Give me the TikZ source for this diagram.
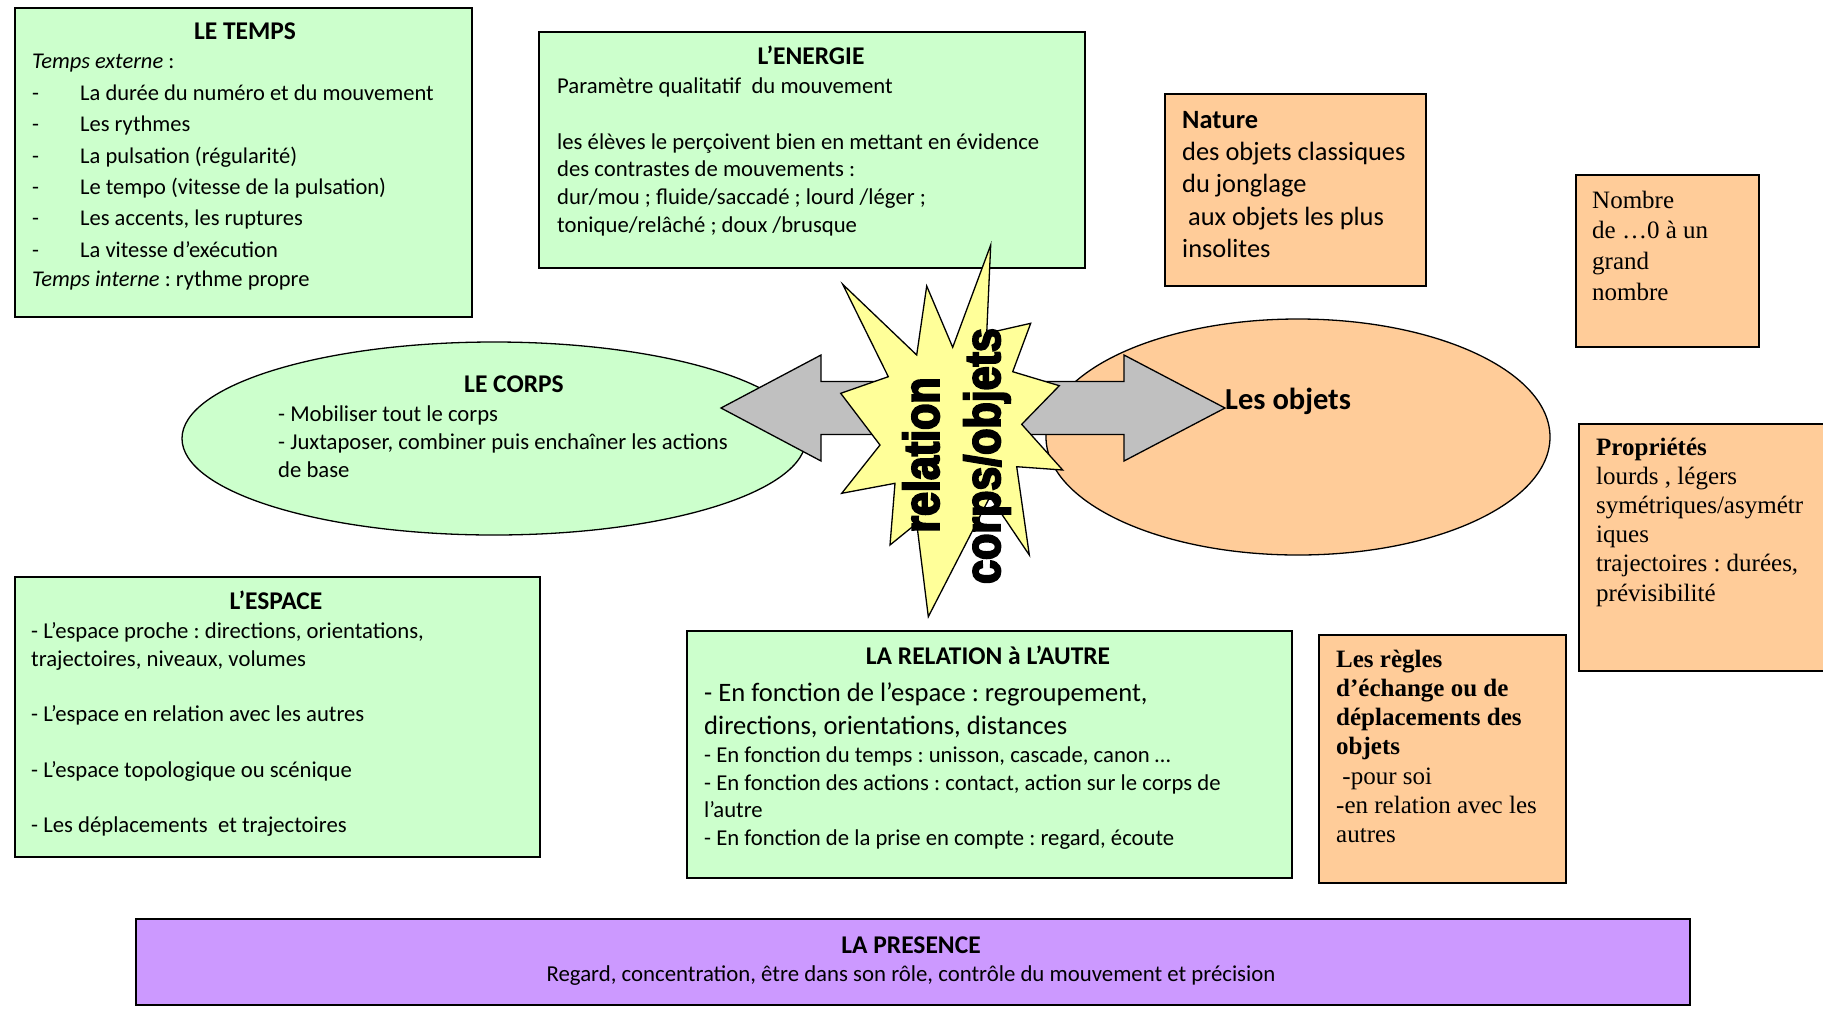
\documentclass[tikz,border=0pt]{standalone}
\usepackage{fontspec}
\setmainfont{Carlito}
\newfontfamily\tnr{Liberation Serif}
\newfontfamily\impactfont[FakeStretch=0.86,FakeBold=4]{Liberation Sans}
\usetikzlibrary{shapes.geometric}
\definecolor{grn}{HTML}{CCFFCC}
\definecolor{org}{HTML}{FFCC99}
\definecolor{prp}{HTML}{CC99FF}
\definecolor{ylw}{HTML}{FFFF99}
\definecolor{gry}{HTML}{C0C0C0}
\frenchspacing
\begin{document}
\begin{tikzpicture}[x=1pt,y=-1pt,
  pbox/.style={draw=black, line width=1.6pt, inner sep=0pt, anchor=north west},
  ell/.style={ellipse, draw=black, line width=1.3pt, inner sep=0pt},
  txt/.style={inner sep=0pt, align=left, anchor=base west},
  ttl/.style={inner sep=0pt, anchor=base, font=\bfseries\fontsize{25.5}{30}\selectfont},
  bigarrow/.style={draw=black, line width=1.3pt, fill=gry, line join=miter},
  starshape/.style={draw=black, line width=1.3pt, fill=ylw, line join=miter},
  startext/.style={inner sep=0pt, rotate=90, font=\impactfont\bfseries\fontsize{50}{54}\selectfont},
  sm/.style={font=\fontsize{22.7}{27.7}\selectfont}
]
\useasboundingbox (0,0) rectangle (1823,1013);

% ---------- boxes ----------
\node[pbox, fill=grn, minimum width=457pt, minimum height=309pt] (temps) at (14,7) {};
\node[pbox, fill=grn, minimum width=546pt, minimum height=236pt] (energie) at (538,31) {};
\node[pbox, fill=org, minimum width=261pt, minimum height=192pt] (nature) at (1164,93) {};
\node[pbox, fill=org, minimum width=183pt, minimum height=172pt] (nombre) at (1575,174) {};
\node[pbox, fill=org, minimum width=260pt, minimum height=247pt] (proprietes) at (1578,423) {};
\node[pbox, fill=org, minimum width=247pt, minimum height=248pt] (regles) at (1318,634) {};
\node[pbox, fill=grn, minimum width=525pt, minimum height=280pt] (espace) at (14,576) {};
\node[pbox, fill=grn, minimum width=605pt, minimum height=247pt] (relautre) at (686,630) {};
\node[pbox, fill=prp, minimum width=1554pt, minimum height=86pt] (presence) at (135,918) {};

% ---------- ellipses ----------
\node[ell, fill=grn, minimum width=624pt, minimum height=193pt] (corps) at (494,438.5) {};
\node[ell, fill=org, minimum width=504pt, minimum height=236pt] (objets) at (1298,437) {};

% ---------- double arrow ----------
\draw[bigarrow] (721,408) -- (821,355) -- (821,381.5) -- (1124,381.5) -- (1124,355) -- (1225,408)
  -- (1124,461) -- (1124,434.5) -- (821,434.5) -- (821,461) -- cycle;

% ---------- star ----------
\draw[starshape] (842.7,284.3) -- (916.7,355) -- (926.7,286) -- (952.7,347.3) -- (990.7,245)
  -- (986.7,333.3) -- (1030.7,323.3) -- (1012.7,371.7) -- (1059.3,385.7) -- (1021.7,424.3)
  -- (1062.7,470) -- (1016.7,466.7) -- (1029.3,555) -- (990,496.7) -- (928.3,616.7)
  -- (916.7,523.3) -- (890,545) -- (895,483.3) -- (841.7,493.3) -- (880,445)
  -- (840.7,393.3) -- (888.3,376.7) -- cycle;
\node[startext] (rel) at (921,455) {relation};
\node[startext] (corpsobj) at (987,456) {corps/objets};

% ---------- LE TEMPS ----------
\node[ttl] (tempsT) at (245,39.5) {LE TEMPS};
\node[txt, font=\fontsize{22.5}{31.3}\selectfont] (tempsA) at (32,68) {\textit{Temps externe} :};
\node[txt, font=\fontsize{22.5}{31.3}\selectfont] (tempsB) at (32,257)
 {\makebox[48pt][l]{-}La durée du numéro et du mouvement\\
  \makebox[48pt][l]{-}Les rythmes\\
  \makebox[48pt][l]{-}La pulsation (régularité)\\
  \makebox[48pt][l]{-}Le tempo (vitesse de la pulsation)\\
  \makebox[48pt][l]{-}Les accents, les ruptures\\
  \makebox[48pt][l]{-}La vitesse d’exécution};
\node[txt, font=\fontsize{22.5}{31.3}\selectfont] (tempsC) at (32,286) {\textit{Temps interne} : rythme propre};

% ---------- L'ENERGIE ----------
\node[ttl] (energieT) at (811,64.5) {L’ENERGIE};
\node[txt, sm] (energieA) at (557,93.8) {Paramètre qualitatif\ \ du mouvement};
\node[txt, sm] (energieB) at (557,232.3)
 {les élèves le perçoivent bien en mettant en évidence\\
  des contrastes de mouvements :\\
  dur/mou ; fluide/saccadé ; lourd /léger ;\\
  tonique/relâché ; doux /brusque};

% ---------- LE CORPS ----------
\node[ttl] (corpsT) at (514,392.5) {LE CORPS};
\node[txt, sm] (corpsA) at (278,477.3)
 {- Mobiliser tout le corps\\
  - Juxtaposer, combiner puis enchaîner les actions\\
  de base};

% ---------- Les objets ----------
\node[txt, font=\bfseries\fontsize{30.5}{36}\selectfont] (objetsT) at (1225,409) {Les objets};

% ---------- Nature ----------
\node[txt, font=\fontsize{26.4}{32.3}\selectfont] (natureA) at (1182,257.3)
 {\textbf{Nature}\\
  des objets classiques\\
  du jonglage\\
  \ aux objets les plus\\
  insolites};

% ---------- Nombre ----------
\node[txt, font=\tnr\fontsize{25}{30.6}\selectfont] (nombreA) at (1592,300)
 {Nombre\\
  de …0 à un\\
  grand\\
  nombre};

% ---------- Propriétés ----------
\node[txt, font=\tnr\fontsize{25}{29.2}\selectfont] (propA) at (1596,601)
 {\textbf{Propriétés}\\
  lourds , légers\\
  symétriques/asymétr\\
  iques\\
  trajectoires : durées,\\
  prévisibilité};

% ---------- Les règles ----------
\node[txt, font=\tnr\fontsize{25}{29.2}\selectfont] (reglesA) at (1336,842.5)
 {\textbf{Les règles}\\
  \textbf{d’échange ou de}\\
  \textbf{déplacements des}\\
  \textbf{objets}\\
  \ -pour soi\\
  -en relation avec les\\
  autres};

% ---------- L'ESPACE ----------
\node[ttl] (espaceT) at (276,609.5) {L’ESPACE};
\node[txt, sm] (espaceA) at (31,832.5)
 {- L’espace proche : directions, orientations,\\
  trajectoires, niveaux, volumes\\[27.8pt]
  - L’espace en relation avec les autres\\[27.8pt]
  - L’espace topologique ou scénique\\[27.8pt]
  - Les déplacements\ \ et trajectoires};

% ---------- LA RELATION ----------
\node[ttl] (relT) at (988,664.5) {LA RELATION à L’AUTRE};
\node[txt, font=\fontsize{26.6}{32.5}\selectfont] (relA) at (704,734)
 {- En fonction de l’espace : regroupement,\\
  directions, orientations, distances};
\node[txt, sm] (relB) at (704,845.5)
 {- En fonction du temps : unisson, cascade, canon …\\
  - En fonction des actions : contact, action sur le corps de\\
  l’autre\\
  - En fonction de la prise en compte : regard, écoute};

% ---------- LA PRESENCE ----------
\node[ttl] (presT) at (911,953) {LA PRESENCE};
\node[inner sep=0pt, anchor=base, font=\fontsize{22.8}{27}\selectfont] (presA) at (911,981)
 {Regard, concentration, être dans son rôle, contrôle du mouvement et précision};
\end{tikzpicture}
\end{document}
